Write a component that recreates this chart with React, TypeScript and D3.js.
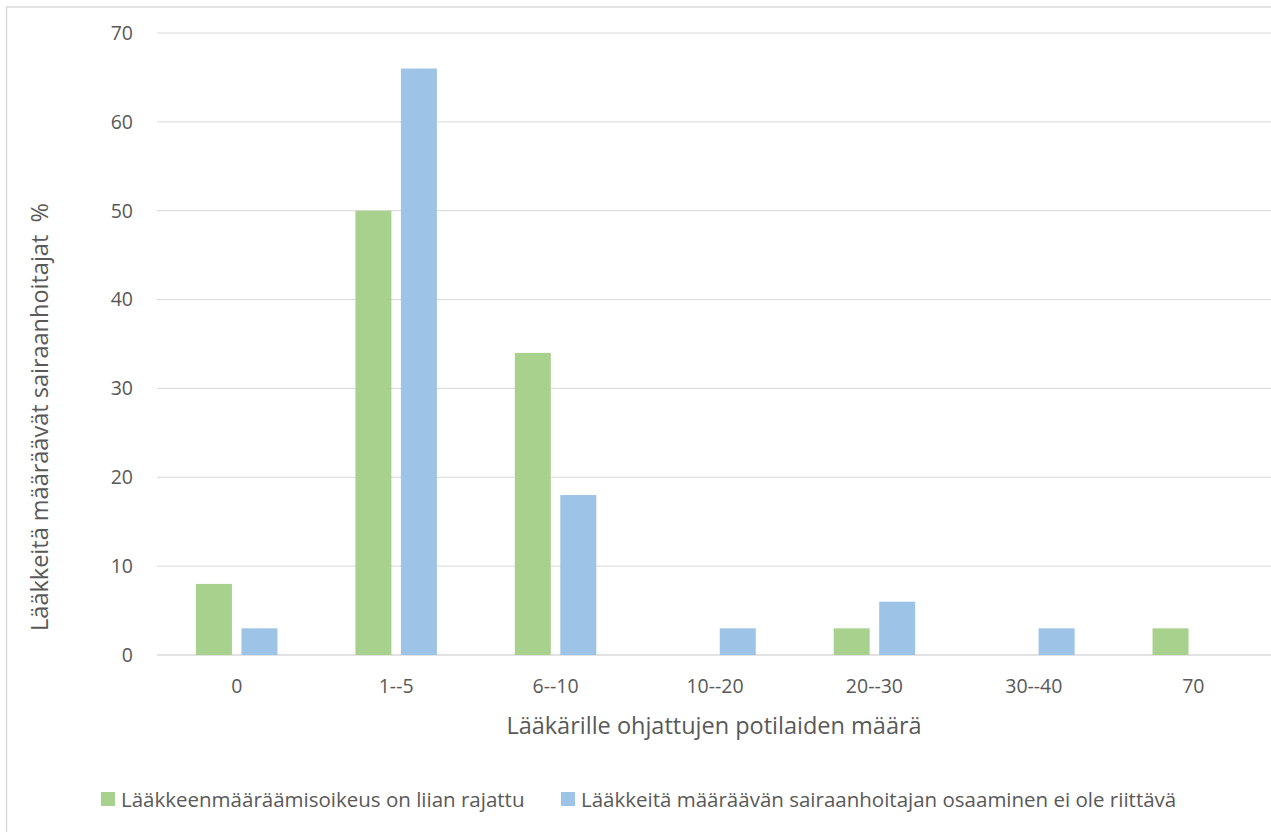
import React from "react";
import * as d3 from "d3";

const categories = ["0", "1--5", "6--10", "10--20", "20--30", "30--40", "70"];
const seriesNames = [
  "Lääkkeenmääräämisoikeus on liian rajattu",
  "Lääkkeitä määräävän sairaanhoitajan osaaminen ei ole riittävä",
];
const limitedRights = [8, 50, 34, 0, 3, 0, 3];
const insufficientSkills = [3, 66, 18, 3, 6, 3, 0];
const yTicks = [0, 10, 20, 30, 40, 50, 60, 70];
const colors = ["#A9D18E", "#9DC3E6"];

const W = 1271;
const H = 832;
const plot = { left: 157, right: 1273, top: 33, bottom: 655 };
const font = "'Open Sans', 'Liberation Sans', sans-serif";
const textColor = "#595959";

export default function App() {
  const x = d3
    .scaleBand<string>()
    .domain(categories)
    .range([plot.left, plot.right])
    .paddingInner(0)
    .paddingOuter(0);
  const y = d3.scaleLinear().domain([0, 70]).range([plot.bottom, plot.top]);
  const barW = 36;
  const gap = 9.5;
  const series = [limitedRights, insufficientSkills];

  return (
    <svg
      width={W}
      height={H}
      style={{ position: "absolute", left: 0, top: 0, background: "#fff" }}
    >
      <rect x={6.5} y={7} width={W + 10} height={H + 10} fill="#fff" stroke="#D9D9D9" strokeWidth={1.5} />
      {yTicks.map((t) => (
        <g key={t}>
          <line
            x1={plot.left}
            x2={plot.right}
            y1={y(t)}
            y2={y(t)}
            stroke="#D9D9D9"
            strokeWidth={t === 0 ? 1.5 : 1}
          />
          <text
            x={133}
            y={y(t)}
            dy="0.35em"
            textAnchor="end"
            fontFamily={font}
            fontSize={19.5}
            fill={textColor}
          >
            {t}
          </text>
        </g>
      ))}
      {series.map((vals, si) =>
        vals.map((v, i) => {
          const c = x(categories[i])! + x.bandwidth() / 2;
          const bx = si === 0 ? c - gap / 2 - barW : c + gap / 2;
          if (v === 0) return null;
          return (
            <rect
              key={`${si}-${i}`}
              x={bx}
              y={y(v)}
              width={barW}
              height={y(0) - y(v)}
              fill={colors[si]}
            />
          );
        })
      )}
      {categories.map((c) => (
        <text
          key={c}
          x={x(c)! + x.bandwidth() / 2}
          y={686}
          dy="0.35em"
          textAnchor="middle"
          fontFamily={font}
          fontSize={19.5}
          fill={textColor}
        >
          {c}
        </text>
      ))}
      <text
        x={714}
        y={726}
        dy="0.35em"
        textAnchor="middle"
        fontFamily={font}
        fontSize={23.5}
        fill={textColor}
      >
        Lääkärille ohjattujen potilaiden määrä
      </text>
      <text
        transform={`translate(40,${(plot.top + plot.bottom) / 2 + 73}) rotate(-90)`}
        dy="0.35em"
        textAnchor="middle"
        fontFamily={font}
        fontSize={23.5}
        fill={textColor}
        style={{ whiteSpace: "pre" }}
      >
        {"Lääkkeitä määräävät sairaanhoitajat  %"}
      </text>
      {seriesNames.map((name, i) => {
        const lx = i === 0 ? 101 : 561;
        return (
          <g key={name}>
            <rect x={lx} y={792} width={14} height={14} fill={colors[i]} />
            <text
              x={lx + 20}
              y={800}
              dy="0.35em"
              fontFamily={font}
              fontSize={20.5}
              fill={textColor}
            >
              {name}
            </text>
          </g>
        );
      })}
    </svg>
  );
}
